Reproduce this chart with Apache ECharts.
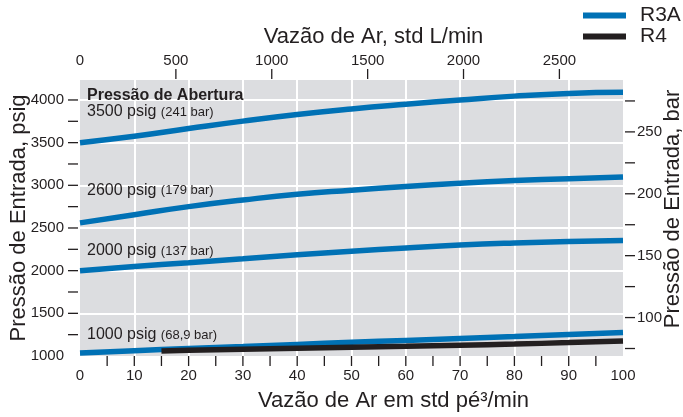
<!DOCTYPE html>
<html><head><meta charset="utf-8">
<script src="https://cdn.jsdelivr.net/npm/echarts@6/dist/echarts.min.js"></script>
<style>html,body{margin:0;padding:0;background:#fff}#c{width:683px;height:417px}</style>
</head><body><div id="c"></div>
<script>
// ---- data ----
const cfm = [0, 10, 20, 30, 40, 50, 60, 70, 80, 90, 100];
const r3a3500 = [3500, 3575, 3665, 3752, 3830, 3895, 3950, 4000, 4045, 4077, 4090];
const r3a2600 = [2560, 2655, 2750, 2828, 2895, 2942, 2985, 3024, 3055, 3078, 3098];
const r3a2000 = [2000, 2048, 2094, 2140, 2186, 2228, 2266, 2300, 2324, 2341, 2352];
const r3a1000 = [1035, 1062, 1088, 1112, 1136, 1160, 1183, 1206, 1228, 1252, 1276];
const r4Cfm = [15, 20, 30, 40, 50, 60, 70, 80, 90, 100];
const r4_1000 = [1060, 1066, 1078, 1090, 1102, 1114, 1127, 1140, 1157, 1176];

const bottomLabels = [0, 10, 20, 30, 40, 50, 60, 70, 80, 90, 100];
const bottomTicks = [5, 10, 15, 20, 25, 30, 35, 40, 45, 50, 55, 60, 65, 70, 75, 80, 85, 90, 95];
const topLabels = [0, 500, 1000, 1500, 2000, 2500];
const topTicks = [500, 1000, 1500, 2000, 2500];
const leftLabels = [1000, 1500, 2000, 2500, 3000, 3500, 4000];
const leftTicks = [1250, 1500, 1750, 2000, 2250, 2500, 2750, 3000, 3250, 3500, 3750, 4000];
const rightLabels = [100, 150, 200, 250];
const rightTicks = [75, 100, 125, 150, 175, 200, 225, 250, 275];

const psigMin = 1000, psigMax = 4234;
const PSI_PER_BAR = 14.5038;
const LPM_PER_CFM = 28.3168;

const annotations = [
  {text: '{b|Pressão de Abertura}', y: 95.5},
  {text: '3500 psig {s|(241 bar)}', y: 112},
  {text: '2600 psig {s|(179 bar)}', y: 190.5},
  {text: '2000 psig {s|(137 bar)}', y: 251},
  {text: '1000 psig {s|(68,9 bar)}', y: 335}
];

// ---- chart ----
const FONT = 'Liberation Sans, Arial, sans-serif';
const TXT = '#231f20';
const BLUE = '#0071b5';
const BLACK = '#231f20';
const zip = (xs, ys) => xs.map((x, i) => [x, ys[i]]);
const plain = v => String(v);

const chart = echarts.init(document.getElementById('c'), null, {renderer: 'canvas'});

function lineSeries(name, color, data) {
  return {
    name, type: 'line', xAxisIndex: 0, yAxisIndex: 0, data,
    smooth: true, showSymbol: false, symbol: 'none', color,
    lineStyle: {color, width: 5.5, cap: 'butt'}, clip: true, animation: false
  };
}

const nameStyle = (pad) => ({fontSize: 22, color: TXT, fontFamily: FONT, padding: pad});
const labelBase = {fontSize: 15, color: TXT, fontFamily: FONT, formatter: plain};

chart.setOption({
  animation: false,
  textStyle: {fontFamily: FONT, color: TXT},
  grid: {left: 80, right: 60, top: 80, bottom: 61, show: true, backgroundColor: '#dcdde0',
         borderWidth: 0, containLabel: false, outerBoundsMode: 'none'},
  legend: {
    data: ['R3A', 'R4'], orient: 'vertical', left: 583, top: 5, padding: 0,
    icon: 'rect', itemWidth: 43, itemHeight: 6, itemGap: 0,
    textStyle: {fontSize: 21, color: TXT, fontFamily: FONT, lineHeight: 19.5, padding: [0, 0, 0, 9]}
  },
  xAxis: [
    {
      type: 'value', position: 'bottom', min: 0, max: 100, interval: 10,
      name: 'Vazão de Ar em std pé³/min', nameLocation: 'middle', nameGap: 34, nameMoveOverlap: false,
      nameTextStyle: nameStyle([0, 0, 0, 84]),
      axisLine: {show: false}, axisTick: {show: false}, minorTick: {show: false},
      axisLabel: Object.assign({customValues: bottomLabels, margin: 12}, labelBase),
      splitLine: {show: true, showMinLine: false, showMaxLine: false, lineStyle: {color: '#ffffff', width: 2}}
    },
    {
      type: 'value', position: 'top', min: 0, max: 100 * LPM_PER_CFM,
      name: 'Vazão de Ar, std L/min', nameLocation: 'middle', nameGap: 32, nameMoveOverlap: false,
      nameTextStyle: nameStyle([0, 0, 0, 44]),
      axisLine: {show: false}, axisTick: {show: false},
      axisLabel: Object.assign({customValues: topLabels, margin: 12}, labelBase),
      splitLine: {show: false}
    }
  ],
  yAxis: [
    {
      type: 'value', position: 'left', min: psigMin, max: psigMax, interval: 500,
      name: 'Pressão de Entrada, psig', nameLocation: 'middle', nameGap: 50, nameMoveOverlap: false,
      nameTextStyle: nameStyle([0, 0, 0, 0]),
      axisLine: {show: false}, axisTick: {show: false}, minorTick: {show: false},
      axisLabel: Object.assign({customValues: leftLabels, margin: 16}, labelBase),
      splitLine: {show: true, showMinLine: false, showMaxLine: false, lineStyle: {color: '#ffffff', width: 2}}
    },
    {
      type: 'value', position: 'right', min: psigMin / PSI_PER_BAR, max: psigMax / PSI_PER_BAR,
      name: 'Pressão de Entrada, bar', nameLocation: 'middle', nameGap: 39, nameMoveOverlap: false,
      nameTextStyle: nameStyle([0, 0, 0, 18]),
      axisLine: {show: false}, axisTick: {show: false},
      axisLabel: Object.assign({customValues: rightLabels, margin: 14}, labelBase),
      splitLine: {show: false}
    }
  ],
  series: [
    lineSeries('R3A', BLUE, zip(cfm, r3a3500)),
    lineSeries('R3A', BLUE, zip(cfm, r3a2600)),
    lineSeries('R3A', BLUE, zip(cfm, r3a2000)),
    lineSeries('R3A', BLUE, zip(cfm, r3a1000)),
    lineSeries('R4', BLACK, zip(r4Cfm, r4_1000))
  ]
});

// tick marks placed through the axes' own scales
const gx0 = chart.convertToPixel({xAxisIndex: 0}, 0);
const gx1 = chart.convertToPixel({xAxisIndex: 0}, 100);
const gyB = chart.convertToPixel({yAxisIndex: 0}, psigMin);
const gyT = chart.convertToPixel({yAxisIndex: 0}, psigMax);
const tickStyle = {stroke: TXT, lineWidth: 1.3};
const ticks = [];
bottomTicks.forEach(v => {
  const p = chart.convertToPixel({xAxisIndex: 0}, v);
  ticks.push({type: 'line', silent: true, shape: {x1: p, y1: gyB, x2: p, y2: gyB + 10}, style: tickStyle});
});
topTicks.forEach(v => {
  const p = chart.convertToPixel({xAxisIndex: 1}, v);
  ticks.push({type: 'line', silent: true, shape: {x1: p, y1: gyT - 1, x2: p, y2: gyT - 11}, style: tickStyle});
});
leftTicks.forEach(v => {
  const p = chart.convertToPixel({yAxisIndex: 0}, v);
  ticks.push({type: 'line', silent: true, shape: {x1: gx0 - 2, y1: p, x2: gx0 - 12, y2: p}, style: tickStyle});
});
rightTicks.forEach(v => {
  const p = chart.convertToPixel({yAxisIndex: 1}, v);
  ticks.push({type: 'line', silent: true, shape: {x1: gx1 + 2, y1: p, x2: gx1 + 12, y2: p}, style: tickStyle});
});

const texts = annotations.map(a => ({
  type: 'text', x: 87, y: a.y, z: 100, silent: true,
  style: {
    text: a.text, fill: TXT, font: '16px ' + FONT, verticalAlign: 'middle',
    rich: {
      b: {fontSize: 16, fontWeight: 'bold', fontFamily: FONT, fill: TXT},
      s: {fontSize: 13, fontFamily: FONT, fill: TXT}
    }
  }
}));

chart.setOption({graphic: ticks.concat(texts)});
</script></body></html>
